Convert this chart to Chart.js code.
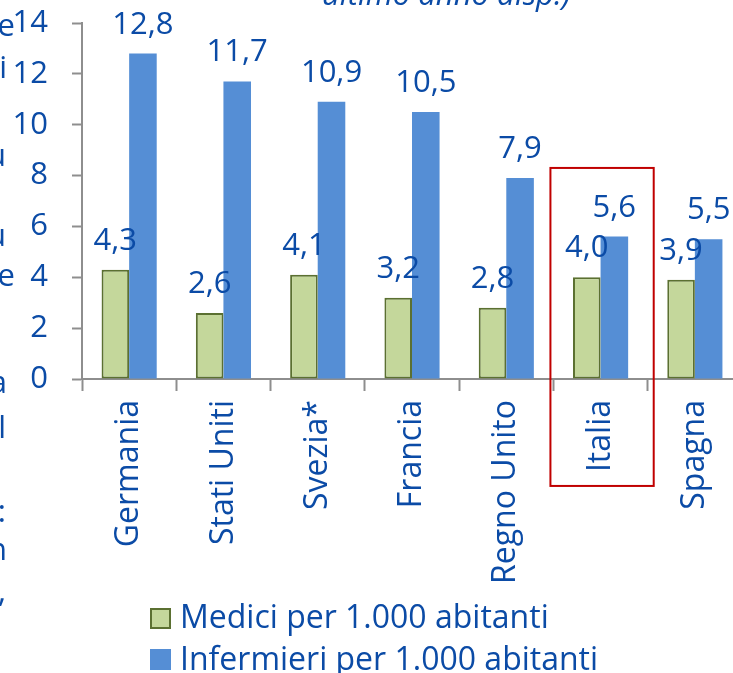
<!DOCTYPE html>
<html>
<head>
<meta charset="utf-8">
<script src="https://cdn.jsdelivr.net/npm/chart.js@4/dist/chart.umd.min.js"></script>
<style>
  html, body { margin: 0; padding: 0; background: #fff; overflow: hidden; }
  body { width: 733px; height: 673px; position: relative; font-family: "Open Sans", sans-serif; color: #0B4BA6; }
  #wrap { position: absolute; left: 0; top: 0; }
  .frag { position: absolute; width: 60px; text-align: right; font-size: 31px; line-height: 40px; white-space: nowrap; }
  .top { position: absolute; font-size: 31px; line-height: 40px; font-style: italic; white-space: nowrap; }
  .leg { position: absolute; left: 180px; font-size: 32px; line-height: 40px; white-space: nowrap; }
  .box { position: absolute; left: 150px; width: 21px; height: 21px; box-sizing: border-box; }
</style>
</head>
<body>
<div id="wrap"><canvas id="chart" width="742" height="673"></canvas></div>

<!-- bits of the surrounding page text, cut off at the edges -->
<div class="frag" style="left:-45px;top:4px">e</div>
<div class="frag" style="left:-53px;top:46px">i</div>
<div class="frag" style="left:-54px;top:134px">u</div>
<div class="frag" style="left:-54px;top:214px">u</div>
<div class="frag" style="left:-45px;top:254px">e</div>
<div class="frag" style="left:-53px;top:361px">a</div>
<div class="frag" style="left:-54px;top:406px">l</div>
<div class="frag" style="left:-54px;top:490px">:</div>
<div class="frag" style="left:-53px;top:528px">n</div>
<div class="frag" style="left:-54px;top:570px">,</div>
<div class="top" style="left:322px;top:-27px">ultimo anno disp.)</div>

<div class="box" style="top:608px;background:#C4D79B;border:2px solid #5B7031"></div>
<div class="leg" style="top:596px">Medici per 1.000 abitanti</div>
<div class="box" style="top:649px;background:#558ED5"></div>
<div class="leg" style="top:638px">Infermieri per 1.000 abitanti</div>

<script>
const categories = ['Germania', 'Stati Uniti', 'Svezia*', 'Francia', 'Regno Unito', 'Italia', 'Spagna'];
const medici = [4.3, 2.6, 4.1, 3.2, 2.8, 4.0, 3.9];
const infermieri = [12.8, 11.7, 10.9, 10.5, 7.9, 5.6, 5.5];
const yTicks = [0, 2, 4, 6, 8, 10, 12, 14];
const highlighted = 'Italia';

const blue = '#0B4BA6';
const axisGrey = '#8E8E8E';

function fmt(v) {
    return v.toFixed(1).replace('.', ',');
}

// value labels above each bar
const barLabels = {
    id: 'barLabels',
    afterDatasetsDraw(chart) {
        const ctx = chart.ctx;
        ctx.save();
        ctx.font = '31px "Open Sans"';
        ctx.fillStyle = blue;
        ctx.textAlign = 'center';
        ctx.textBaseline = 'alphabetic';
        chart.data.datasets.forEach(function (ds, i) {
            chart.getDatasetMeta(i).data.forEach(function (bar, j) {
                ctx.fillText(fmt(ds.data[j]), bar.x, bar.y - 20);
            });
        });
        ctx.restore();
    }
};

// red frame round the highlighted country
const frame = {
    id: 'frame',
    afterDraw(chart) {
        const x = chart.scales.x, y = chart.scales.y;
        const idx = categories.indexOf(highlighted);
        const half = x.width / categories.length / 2;
        const cx = x.getPixelForValue(idx);
        const ctx = chart.ctx;
        ctx.save();
        ctx.strokeStyle = '#C00000';
        ctx.lineWidth = 2;
        ctx.strokeRect(cx - half - 3, y.getPixelForValue(8.3), 2 * half + 9, 318);
        ctx.restore();
    }
};

document.fonts.load('32px "Open Sans"').then(function () {
    new Chart(document.getElementById('chart'), {
        type: 'bar',
        data: {
            labels: categories,
            datasets: [{
                label: 'Medici per 1.000 abitanti',
                data: medici,
                backgroundColor: '#C4D79B',
                borderColor: '#5B7031',
                borderWidth: 2,
                borderSkipped: false,
                categoryPercentage: 0.585,
                barPercentage: 1
            }, {
                label: 'Infermieri per 1.000 abitanti',
                data: infermieri,
                backgroundColor: '#558ED5',
                borderWidth: 0,
                categoryPercentage: 0.585,
                barPercentage: 1
            }]
        },
        options: {
            responsive: false,
            animation: false,
            layout: { padding: { top: 23, left: 0, right: 0, bottom: 0 } },
            plugins: {
                legend: { display: false },
                tooltip: { enabled: false }
            },
            scales: {
                x: {
                    z: 1,
                    afterFit: function (s) {
                        s.height = 294;
                        s.paddingLeft = 0;
                        s.paddingRight = 0;
                    },
                    grid: {
                        offset: true,
                        drawOnChartArea: false,
                        drawTicks: true,
                        tickLength: 12,
                        tickColor: axisGrey,
                        tickWidth: 2
                    },
                    border: { color: axisGrey, width: 2 },
                    ticks: {
                        color: blue,
                        font: { family: '"Open Sans", sans-serif', size: 32 },
                        minRotation: 90,
                        maxRotation: 90,
                        padding: 9,
                        autoSkip: false
                    }
                },
                y: {
                    min: 0,
                    max: 14,
                    afterFit: function (s) {
                        s.width = 82;
                        s.paddingTop = 0;
                        s.paddingBottom = 0;
                    },
                    afterBuildTicks: function (s) {
                        s.ticks = yTicks.map(function (v) { return { value: v }; });
                    },
                    grid: {
                        drawOnChartArea: false,
                        drawTicks: true,
                        tickLength: 10,
                        tickColor: axisGrey,
                        tickWidth: 2
                    },
                    border: { color: axisGrey, width: 2 },
                    ticks: {
                        color: blue,
                        font: { family: '"Open Sans", sans-serif', size: 31 },
                        padding: 24
                    }
                }
            }
        },
        plugins: [barLabels, frame]
    });
});
</script>
</body>
</html>
